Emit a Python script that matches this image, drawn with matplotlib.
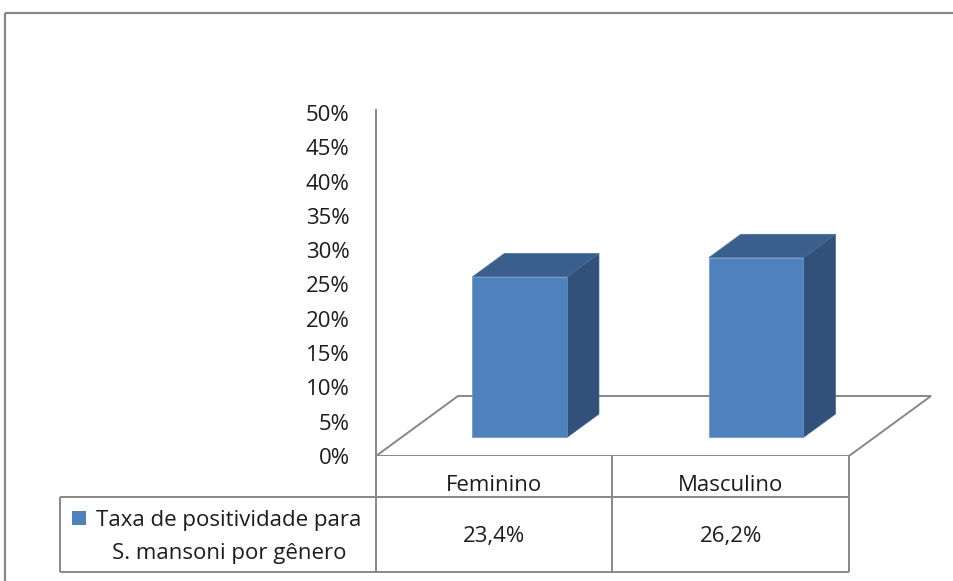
import matplotlib
matplotlib.use("Agg")
import matplotlib.pyplot as plt
from matplotlib.patches import Polygon, Rectangle
from matplotlib.lines import Line2D

plt.rcParams['font.family'] = ['Open Sans', 'DejaVu Sans']

# ---- data ----
categories = ['Feminino', 'Masculino']
values = [23.4, 26.2]
value_labels = ['23,4%', '26,2%']
y_ticks = [0, 5, 10, 15, 20, 25, 30, 35, 40, 45, 50]
y_tick_labels = ['0%', '5%', '10%', '15%', '20%', '25%', '30%', '35%', '40%', '45%', '50%']
series_name = ['Taxa de positividade para', 'S. mansoni por gênero']

# ---- layout / style ----
W, H = 954, 581
FS = 16
TXT = '#1c1c1c'
GRAY = '#878787'
FRONT = '#4F81BD'
SIDE = '#31507A'
TOP = '#3A5F8C'

L_PX = 376.0        # x pixel of category 0 / value axis
CW_PX = 236.5       # pixels per category
Y0_PX = 456.0       # pixel of 0 %
PX_PER_PCT = 6.86   # pixels per percent
YMAX = 50.4
XMAX = 2.37

DEPTH_X = 82 / CW_PX        # floor depth in category units
DEPTH_Y = 60 / PX_PER_PCT   # floor depth in percent units
F0, F1 = 0.31, 0.70         # bar depth range (fraction of floor depth)
BW = 0.40                   # bar width (category units)

fig = plt.figure(figsize=(W / 100, H / 100), dpi=100)

ax = fig.add_axes([L_PX / W, (H - Y0_PX) / H,
                   XMAX * CW_PX / W, YMAX * PX_PER_PCT / H])
ax.set_xlim(0, XMAX)
ax.set_ylim(0, YMAX)
ax.patch.set_visible(False)
for s in ['top', 'right', 'bottom']:
    ax.spines[s].set_visible(False)
ax.spines['left'].set_color(GRAY)
ax.spines['left'].set_linewidth(1.4)
ax.set_xticks([])
ax.set_yticks(y_ticks)
ax.set_yticklabels(y_tick_labels)
ax.tick_params(axis='y', length=0, pad=19, labelsize=FS, labelcolor=TXT)

# floor
n = len(categories)
floor = Polygon([(0, 0), (n, 0), (n + DEPTH_X, DEPTH_Y), (DEPTH_X, DEPTH_Y)],
                closed=True, facecolor='none', edgecolor=GRAY, lw=1.4, zorder=1)
ax.add_patch(floor)

# bars
dx = (F1 - F0) * DEPTH_X
dy = (F1 - F0) * DEPTH_Y
for i, v in enumerate(values):
    x0 = i + (1 - BW) / 2 + F0 * DEPTH_X
    x1 = x0 + BW
    y0 = F0 * DEPTH_Y
    y1 = y0 + v
    side = Polygon([(x1, y0), (x1 + dx, y0 + dy), (x1 + dx, y1 + dy), (x1, y1)],
                   closed=True, facecolor=SIDE, edgecolor='#3d5f8a', lw=0.5, zorder=3)
    top = Polygon([(x0, y1), (x1, y1), (x1 + dx, y1 + dy), (x0 + dx, y1 + dy)],
                  closed=True, facecolor=TOP, edgecolor='#4a70a0', lw=0.5, zorder=3)
    front = Polygon([(x0, y0), (x1, y0), (x1, y1), (x0, y1)],
                    closed=True, facecolor=FRONT, edgecolor='#6a94c8', lw=0.5, zorder=4)
    ax.add_patch(side)
    ax.add_patch(top)
    ax.add_patch(front)

# ---- overlay in pixel coordinates for data table and frame ----
ov = fig.add_axes([0, 0, 1, 1])
ov.set_xlim(0, W)
ov.set_ylim(H, 0)
ov.axis('off')
ov.patch.set_visible(False)

def line(xs, ys, lw=1.4):
    ov.add_line(Line2D(xs, ys, color=GRAY, lw=lw, solid_capstyle='butt'))

# outer chart frame
line([5, W + 10], [13, 13], lw=1.6)
line([5, 5], [13, H + 10], lw=1.6)

HDR_TOP = Y0_PX
HDR_BOT = 497
ROW_BOT = 572
LEG_L = 60
col_x = [L_PX + k * CW_PX for k in range(n + 1)]

line([LEG_L, col_x[-1]], [HDR_BOT, HDR_BOT])
line([LEG_L, col_x[-1]], [ROW_BOT, ROW_BOT])
line([LEG_L, LEG_L], [HDR_BOT, ROW_BOT])
for cx in col_x:
    line([cx, cx], [HDR_TOP, ROW_BOT])

for i, (cat, lab) in enumerate(zip(categories, value_labels)):
    cxm = L_PX + (i + 0.5) * CW_PX
    ov.text(cxm, 491, cat, ha='center', va='baseline', fontsize=FS, color=TXT)
    ov.text(cxm, 542, lab, ha='center', va='baseline', fontsize=FS, color=TXT)

# legend key in table
ov.add_patch(Rectangle((72, 511), 14, 14, facecolor=FRONT, edgecolor='none'))
ov.text(229, 526, series_name[0], ha='center', va='baseline', fontsize=FS, color=TXT)
ov.text(229, 559, series_name[1], ha='center', va='baseline', fontsize=FS, color=TXT)

fig.savefig('out.png', dpi=100, facecolor='white')
